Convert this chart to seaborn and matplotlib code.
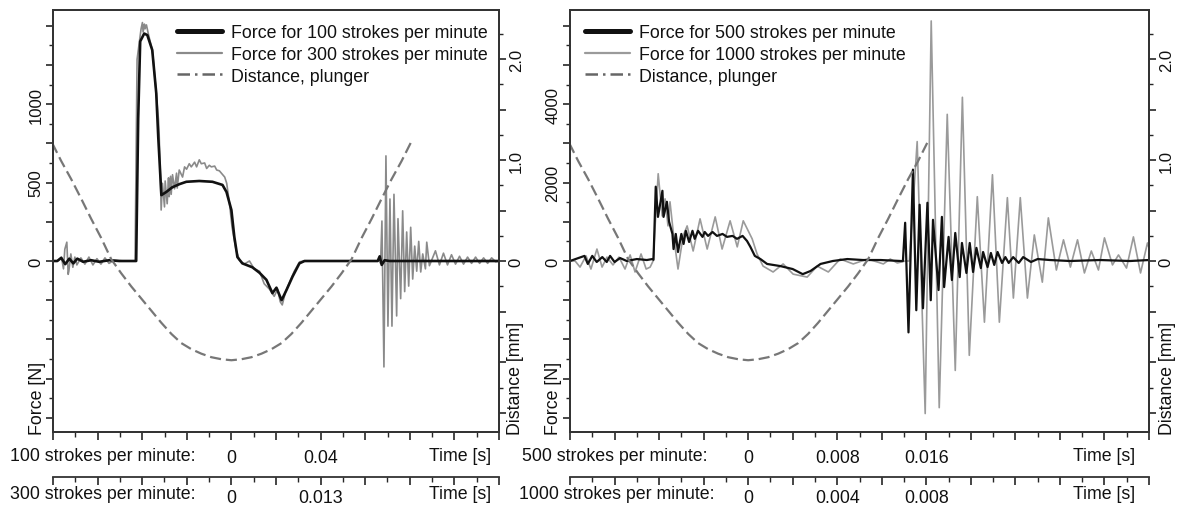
import numpy as np
import matplotlib
matplotlib.use("Agg")
import matplotlib.pyplot as plt
from matplotlib.lines import Line2D
from matplotlib.ticker import MultipleLocator, FixedLocator, FuncFormatter
import seaborn as sns

# ---------------------------------------------------------------- data
# Punch force at 100 strokes/min (time in ms on the 100 spm scale, force in N)
t100_ms = [-80.4, -78.1, -76.3, -74.5, -72.7, -70.9, -69.1, -66.5, -62.9, -59.3,
           -54.8, -50.3, -42.7, -41.8, -40.9, -39.1, -37.7, -35.5, -33.7, -32.8,
           -31.4, -29.2, -26.5, -23.3, -20.2, -14.4, -8.5, -4.0, -2.2, 0.0,
           1.3, 2.7, 4.9, 9.4, 12.6, 15.7, 18.4, 20.2, 22.5, 24.7,
           27.4, 30.5, 32.8, 48.5, 65.6, 66.5, 67.4, 68.7, 70.9, 119.9]
f100_N = [0, 0, 20, -20, 15, -15, 15, -5, 5, -5,
          5, 0, 0, 905, 1400, 1450, 1440, 1345, 1070, 790,
          420, 440, 470, 490, 505, 510, 505, 485, 440, 325,
          155, 25, -15, -40, -75, -120, -205, -170, -250, -185,
          -100, -15, 0, 0, 0, 30, -25, 5, 0, 0]

# Punch force at 300 strokes/min (time in ms on the 300 spm scale)
t300_ms = [-26.8, -26.0, -25.4, -25.1, -24.9, -24.6, -24.4, -24.3, -24.0, -23.7,
           -23.4, -23.1, -22.5, -21.9, -21.3, -20.7, -20.1, -19.5, -18.9, -18.3,
           -17.5, -16.0, -14.4, -14.1, -13.5, -13.3, -13.2, -13.0, -12.9, -12.7,
           -12.4, -11.8, -11.2, -10.9, -10.8, -10.6, -10.5, -10.3, -10.0, -9.9,
           -9.6, -9.4, -9.3, -9.1, -9.0, -8.8, -8.5, -8.2, -8.1, -7.8,
           -7.3, -7.0, -6.7, -6.3, -6.0, -5.5, -5.2, -4.8, -4.5, -4.0,
           -3.7, -3.3, -3.0, -2.5, -2.2, -1.8, -1.5, -1.0, -0.7, -0.3,
           0.1, 0.7, 1.2, 1.9, 2.7, 3.4, 4.2, 4.9, 5.7, 6.4,
           6.9, 7.3, 7.6, 8.1, 8.7, 9.4, 10.2, 10.9, 21.9, 22.2,
           22.3, 22.5, 22.8, 23.1, 23.4, 23.7, 24.0, 24.3, 24.7, 24.9,
           25.3, 25.6, 25.9, 26.2, 26.5, 26.8, 27.1, 27.4, 27.7, 28.0,
           28.3, 28.6, 29.0, 29.2, 29.6, 30.5, 31.1, 31.7, 32.3, 32.9,
           33.5, 34.1, 34.7, 35.3, 35.9, 36.5, 37.1, 37.7, 38.3, 38.9,
           39.5, 40.0]
f300_N = [0, 0, 25, -50, 75, 120, -85, -65, 45, -40,
          25, -25, 20, -20, 25, -25, 15, -20, 20, -15,
          5, 0, 0, 1285, 1480, 1520, 1460, 1510, 1480, 1505,
          1445, 1340, 1055, 900, 810, 520, 325, 495, 345, 510,
          365, 530, 410, 540, 425, 550, 460, 560, 465, 580,
          535, 600, 585, 620, 600, 630, 600, 645, 620, 625,
          590, 610, 600, 605, 580, 575, 560, 535, 495, 370,
          215, 70, 5, -20, 0, -50, -65, -145, -180, -225,
          -180, -260, -280, -195, -135, -65, -5, 0, 0, 15,
          -15, 255, -675, 670, -415, 395, -415, 425, -350, 270,
          -240, 320, -195, 185, -160, 215, -115, 95, -65, 125,
          -70, 45, -50, 120, -30, 65, -25, 50, -25, 40,
          -20, 30, -20, 25, -15, 25, -15, 20, -15, 20,
          -5, 0]

# Punch force at 500 strokes/min (time in ms on the 500 spm scale)
t500_ms = [-16.0, -14.7, -14.4, -14.0, -13.6, -13.1, -12.7, -12.4, -12.0, -11.5,
           -10.9, -10.0, -9.1, -8.6, -8.5, -8.3, -8.1, -7.7, -7.6, -7.3,
           -7.1, -6.8, -6.7, -6.5, -6.3, -6.0, -5.8, -5.6, -5.3, -5.0,
           -4.8, -4.5, -4.1, -3.9, -3.6, -3.2, -2.8, -2.3, -1.9, -1.4,
           -1.0, -0.5, -0.1, 0.2, 0.6, 1.1, 1.7, 2.9, 4.0, 4.9,
           5.6, 6.5, 7.6, 8.9, 10.3, 11.9, 13.7, 13.9, 14.1, 14.4,
           14.8, 15.1, 15.4, 15.7, 16.1, 16.4, 16.6, 17.1, 17.4, 17.6,
           18.0, 18.3, 18.6, 19.0, 19.2, 19.6, 19.9, 20.2, 20.5, 20.9,
           21.1, 21.5, 21.8, 22.1, 22.4, 22.8, 23.1, 23.4, 23.8, 24.3,
           24.7, 25.4, 26.0, 27.1, 28.9, 31.6, 34.3, 36.0]
f500_N = [0, 130, -75, 130, -25, 100, -25, 130, -25, 75,
          0, 50, 25, 50, 30, 1895, 1125, 1790, 1125, 1510,
          1000, 690, 305, 690, 230, 690, 435, 770, 485, 770,
          565, 770, 615, 740, 640, 740, 640, 690, 615, 640,
          565, 640, 510, 360, 130, 50, -75, -130, -205, -335,
          -255, -75, 0, 50, 25, 25, 0, 0, 975, -1820,
          2330, -1255, 1435, -1205, 1485, -1000, 1050, -740, 1125, -665,
          615, -485, 715, -410, 460, -305, 460, -280, 335, -180,
          230, -155, 205, -100, 230, -50, 100, -50, 100, -50,
          100, -25, 50, 25, 0, 25, 0, 25]

# Punch force at 1000 strokes/min (time in ms on the 1000 spm scale)
t1000_ms = [-8.00, -7.77, -7.55, -7.28, -7.06, -6.79, -6.56, -6.34, -6.07, -5.80,
            -5.53, -5.30, -5.08, -4.81, -4.58, -4.40, -4.27, -4.04, -3.86, -3.73,
            -3.60, -3.51, -3.33, -3.15, -2.92, -2.74, -2.47, -2.16, -1.84, -1.48,
            -1.17, -0.81, -0.49, -0.22, 0.18, 0.40, 0.67, 1.12, 1.57, 2.02,
            2.65, 3.10, 3.60, 4.13, 4.72, 5.35, 5.80, 6.07, 6.38, 6.70,
            7.06, 7.24, 7.59, 7.95, 8.22, 8.58, 8.94, 9.30, 9.62, 9.93,
            10.29, 10.61, 10.97, 11.28, 11.64, 11.91, 12.22, 12.54, 12.85, 13.21,
            13.48, 13.84, 14.16, 14.47, 14.79, 15.10, 15.41, 15.73, 16.00, 16.36,
            16.63, 16.99, 17.30, 17.62, 17.93, 18.02]
f1000_N = [0, 0, -155, 130, -205, 305, -155, 100, -100, 100,
           -205, 155, -280, 180, -205, -155, 0, 2225, 1150, 1585,
           895, 1510, 565, -205, 640, 895, 255, 1075, 305, 1125,
           305, 1025, 360, 1025, 565, 180, -130, -280, -75, -335,
           -410, -130, -280, 50, -75, 50, -25, -75, 50, -50,
           0, 0, 3045, -3890, 6120, -3740, 3740, -2790, 4175, -2405,
           1640, -1560, 2200, -1560, 1615, -945, 1615, -945, 665, -540,
           1100, -230, 540, -155, 540, -305, 255, -230, 590, -100,
           155, -180, 615, -305, 460, 305]

# Plunger travel over one stroke (time in ms on the 100 spm scale, distance in mm)
tdist_ms = [-80.4, -76.3, -71.8, -67.4, -62.9, -58.4, -53.9, -49.4, -44.9, -40.4,
            -35.9, -31.4, -26.9, -22.5, -18.0, -13.5, -9.0, -4.5, 0.0,
            4.5, 9.0, 13.5, 18.0, 22.5, 26.9, 31.4, 35.9, 40.4, 44.9,
            49.4, 53.9, 58.4, 62.9, 67.4, 71.8, 76.3, 80.4]
dist_mm = [1.17, 0.99, 0.81, 0.62, 0.42, 0.23, 0.02, -0.12, -0.25, -0.37,
           -0.49, -0.61, -0.72, -0.81, -0.87, -0.915, -0.95, -0.97, -0.98,
           -0.97, -0.95, -0.915, -0.87, -0.81, -0.72, -0.61, -0.49, -0.37, -0.25,
           -0.12, 0.02, 0.23, 0.42, 0.62, 0.81, 0.99, 1.17]

# ---------------------------------------------------------------- style
sns.set_theme(style="ticks")
plt.rcParams["font.family"] = ["Liberation Sans", "DejaVu Sans"]
plt.rcParams["axes.edgecolor"] = "#333333"
plt.rcParams["axes.linewidth"] = 1.3

TXT = "#111111"
FS = 12.8
W, H = 1178, 506

fig = plt.figure(figsize=(W / 100, H / 100), dpi=100)


def fx(px):
    return px / W


def fy(py):
    return 1 - py / H


def label_map(mapping):
    def fmt(v, _pos):
        for key, text in mapping.items():
            if abs(v - key) < 1e-9:
                return text
        return ""
    return FuncFormatter(fmt)


def draw_panel(rect, t_a, f_a, t_b, f_b, ratio, dist_scale, xlim, xmaj, xmin,
               ylim, ymaj, ymin, ylabels, xlabels_a, xlabels_b, names, lw_a,
               col_b, legend_x):
    ax = fig.add_axes(rect)
    ax.set_facecolor("white")
    # slower rate on the primary time axis, faster rate rescaled onto it
    sns.lineplot(x=np.array(t_b) / 1000 * ratio, y=f_b, ax=ax, color=col_b,
                 lw=1.2, estimator=None, sort=False)
    sns.lineplot(x=np.array(t_a) / 1000, y=f_a, ax=ax, color="#111111",
                 lw=lw_a, estimator=None, sort=False)
    ax.set_xlim(*xlim)
    ax.set_ylim(*ylim)
    ax.set_xlabel("")
    ax.set_ylabel("")

    ax.xaxis.set_major_locator(MultipleLocator(xmaj))
    ax.xaxis.set_minor_locator(MultipleLocator(xmin))
    ax.xaxis.set_major_formatter(label_map(xlabels_a))
    ax.yaxis.set_major_locator(MultipleLocator(ymaj))
    ax.yaxis.set_minor_locator(MultipleLocator(ymin))
    ax.yaxis.set_major_formatter(label_map(ylabels))
    ax.tick_params(axis="x", which="major", direction="out", length=6, width=1.2,
                   labelsize=FS, labelcolor=TXT, pad=6, top=False, bottom=True)
    ax.tick_params(axis="x", which="minor", direction="out", length=3.5, width=1.0,
                   top=False, bottom=True)
    ax.tick_params(axis="y", which="major", direction="out", length=5, width=1.2,
                   labelsize=12, labelcolor=TXT, pad=2, left=True, right=False)
    ax.tick_params(axis="y", which="minor", direction="out", length=3, width=1.0,
                   left=True, right=False)
    for lab in ax.get_yticklabels():
        lab.set_rotation(90)
        lab.set_va("center")
        lab.set_ha("right")

    # second time axis for the faster stroke rate
    sec = ax.secondary_xaxis(-45 / 422, functions=(lambda x: x / ratio,
                                                   lambda x: x * ratio))
    sec.xaxis.set_major_locator(FixedLocator(np.arange(xlim[0], xlim[1] + 1e-9, xmaj) / ratio))
    sec.xaxis.set_minor_locator(FixedLocator(np.arange(xlim[0], xlim[1] + 1e-9, xmin) / ratio))
    sec.xaxis.set_major_formatter(label_map(xlabels_b))
    sec.tick_params(axis="x", which="major", direction="out", length=6, width=1.2,
                    labelsize=FS, labelcolor=TXT, pad=3)
    sec.tick_params(axis="x", which="minor", direction="out", length=3.5, width=1.0)
    sec.spines["bottom"].set_linewidth(1.3)

    # plunger distance on the right-hand axis
    axd = ax.twinx()
    sns.lineplot(x=np.array(tdist_ms) / 1000 / dist_scale, y=dist_mm, ax=axd,
                 color="#777777", lw=1.6, ls=(0, (5, 2.2)), estimator=None, sort=False)
    axd.set_ylim(-1.69, 2.485)
    axd.set_ylabel("")
    axd.yaxis.set_major_locator(MultipleLocator(0.5))
    axd.yaxis.set_minor_locator(MultipleLocator(0.25))
    axd.yaxis.set_major_formatter(label_map({0.0: "0", 1.0: "1.0", 2.0: "2.0"}))
    axd.tick_params(axis="y", which="major", direction="out", length=5, width=1.2,
                    labelsize=12, labelcolor=TXT, pad=2)
    axd.tick_params(axis="y", which="minor", direction="out", length=3, width=1.0)
    for lab in axd.get_yticklabels():
        lab.set_rotation(90)
        lab.set_va("center")
        lab.set_ha("left")

    handles = [Line2D([], [], color="#111111", lw=3.6),
               Line2D([], [], color=col_b, lw=1.6),
               Line2D([], [], color="#666666", lw=1.8, ls=(0, (5, 2, 1, 2)))]
    axd.legend(handles, names, loc="upper left", bbox_to_anchor=(legend_x, 0.966),
               frameon=False, fontsize=FS, handlelength=2.55, handletextpad=0.5,
               labelspacing=0.26, borderpad=0, borderaxespad=0,
               labelcolor=TXT)
    return ax


ax_l = draw_panel([fx(53), 1 - 433 / H, fx(446), 422 / H],
                  t100_ms, f100_N, t300_ms, f300_N, 3, 1,
                  (-0.08, 0.12), 0.02, 0.01,
                  (-1090, 1600), 250, 125, {0: "0", 500: "500", 1000: "1000"},
                  {0.0: "0", 0.04: "0.04"}, {0.0: "0", 0.04 / 3: "0.013"},
                  ["Force for 100 strokes per minute",
                   "Force for 300 strokes per minute",
                   "Distance, plunger"], 1.9, "#8a8a8a", 0.278)

ax_r = draw_panel([fx(570), 1 - 433 / H, fx(579), 422 / H],
                  t500_ms, f500_N, t1000_ms, f1000_N, 2, 5,
                  (-0.016, 0.036), 0.004, 0.002,
                  (-4360, 6400), 1000, 500, {0: "0", 2000: "2000", 4000: "4000"},
                  {0.0: "0", 0.008: "0.008", 0.016: "0.016"},
                  {0.0: "0", 0.004: "0.004", 0.008: "0.008"},
                  ["Force for 500 strokes per minute",
                   "Force for 1000 strokes per minute",
                   "Distance, plunger"], 1.6, "#9a9a9a", 0.026)

# row captions beside the time axes
for x0, xr, r1, r2 in [(10, 491, "100 strokes per minute:", "300 strokes per minute:"),
                       (522, 1135, "500 strokes per minute:", "1000 strokes per minute:")]:
    fig.text(fx(x0), fy(457), r1, ha="left", va="center", fontsize=FS, color=TXT)
    fig.text(fx(x0 - 3 if r2.startswith("1000") else x0), fy(495), r2,
             ha="left", va="center", fontsize=FS, color=TXT)
    fig.text(fx(xr), fy(457), "Time [s]", ha="right", va="center", fontsize=FS, color=TXT)
    fig.text(fx(xr), fy(495), "Time [s]", ha="right", va="center", fontsize=FS, color=TXT)

# axis titles, set low along the vertical axes
for xl, xd in [(38, 515), (553, 1168)]:
    fig.text(fx(xl), fy(435), "Force [N]", rotation=90, ha="center", va="bottom",
             fontsize=FS, color=TXT)
    fig.text(fx(xd), fy(435), "Distance [mm]", rotation=90, ha="center", va="bottom",
             fontsize=FS, color=TXT)

fig.savefig("out.png", dpi=100, facecolor="white")
